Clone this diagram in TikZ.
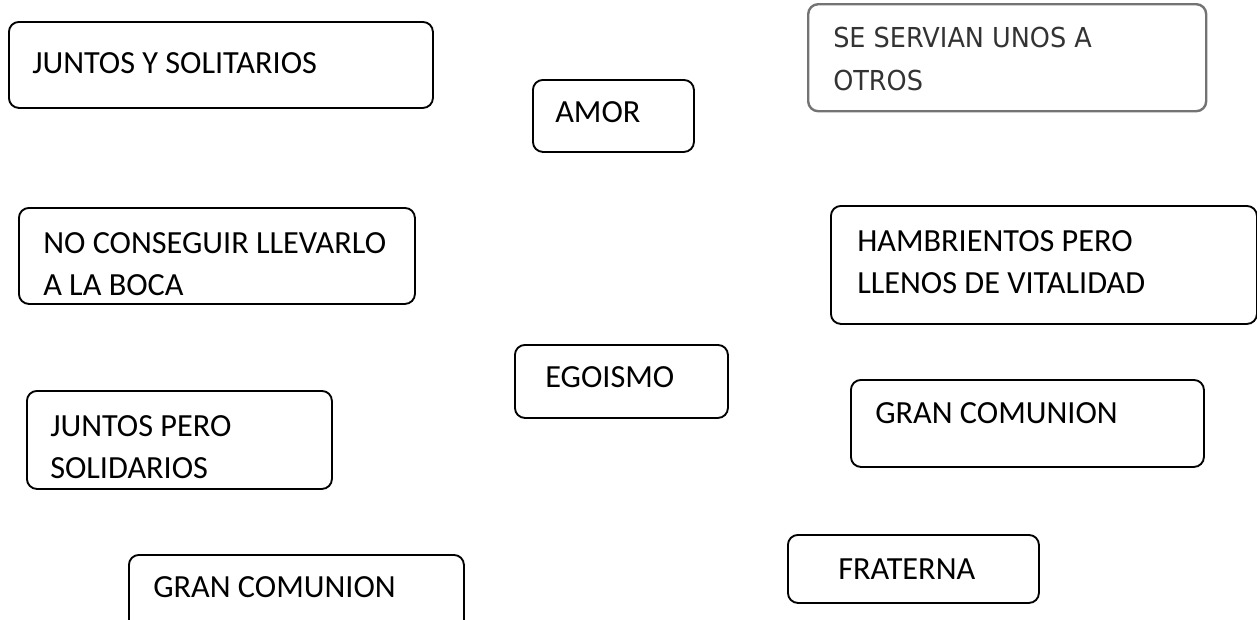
\documentclass[tikz,border=0pt]{standalone}
\usepackage{fontspec}
\setmainfont{Carlito}
\newfontfamily\servfont[FakeStretch=0.93]{DejaVu Sans}
\usetikzlibrary{positioning}

\begin{document}
\begin{tikzpicture}
    [
        x=0.75pt, y=-0.75pt,
        card/.style={draw, line width=1.4pt, rounded corners=7.5pt, anchor=north west, inner sep=0pt},
        greycard/.style={card, draw=black!55, line width=1.8pt},
        txt/.style={anchor=base west, align=left, inner sep=0pt, font=\fontsize{24.2}{31.5}\selectfont},
        greytxt/.style={txt, text=black!80, font=\servfont\fontsize{20.6}{32}\selectfont}
    ]
    \useasboundingbox (0,0) rectangle (1257,619);

    % left column
    \node[card, minimum width=318pt, minimum height=64.5pt] (soli) at (8,21) {};
    \node[txt] (soli_t) at (32,73) {JUNTOS Y SOLITARIOS};

    \node[card, minimum width=297pt, minimum height=72pt] (boca) at (18,207) {};
    \node[txt] (boca_t) at (43,295) {NO CONSEGUIR LLEVARLO\\A LA BOCA};

    \node[card, minimum width=228.75pt, minimum height=73.5pt] (pero) at (26,390) {};
    \node[txt] (pero_t) at (50,478) {JUNTOS PERO\\SOLIDARIOS};

    \node[card, minimum width=251.25pt, minimum height=67.5pt] (comun_l) at (128,554) {};
    \node[txt] (comun_l_t) at (153,597) {GRAN COMUNION};

    % middle
    \node[card, minimum width=120.75pt, minimum height=54pt] (amor) at (532,79) {};
    \node[txt] (amor_t) at (555,122) {AMOR};

    \node[card, minimum width=159.75pt, minimum height=54.75pt] (ego) at (514,344) {};
    \node[txt] (ego_t) at (545,387) {EGOISMO};

    % right column
    \node[greycard, minimum width=298.5pt, minimum height=80.25pt] (servir) at (807,3) {};
    \node[greytxt] (servir_t) at (833,90) {SE SERVIAN UNOS A\\OTROS};

    \node[card, minimum width=319.5pt, minimum height=88.5pt] (hambre) at (830,205) {};
    \node[txt] (hambre_t) at (857,293) {HAMBRIENTOS PERO\\LLENOS DE VITALIDAD};

    \node[card, minimum width=264.75pt, minimum height=65.25pt] (comun_r) at (850,379) {};
    \node[txt] (comun_r_t) at (875,423) {GRAN COMUNION};

    \node[card, minimum width=188.25pt, minimum height=51pt] (frat) at (787,534) {};
    \node[txt] (frat_t) at (838,579) {FRATERNA};

\end{tikzpicture}
\end{document}
